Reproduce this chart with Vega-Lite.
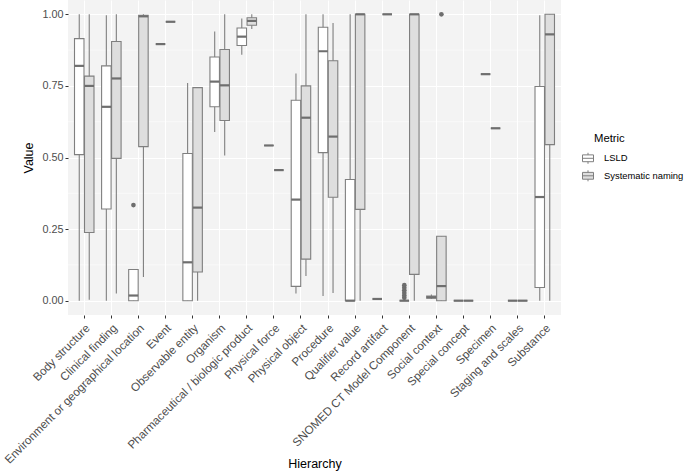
{
  "$schema": "https://vega.github.io/schema/vega-lite/v6.json",
  "autosize": "none",
  "width": 493,
  "height": 315,
  "padding": {"left": 68, "top": 0, "right": 124, "bottom": 156},
  "background": "white",
  "config": {
    "font": "Liberation Sans",
    "view": {"fill": "#F3F3F3", "stroke": null},
    "axis": {"labelColor": "#4D4D4D", "labelFontSize": 10.8, "titleFontSize": 12.5, "titleFontWeight": "normal", "titleColor": "#000", "tickColor": "#333", "tickSize": 3, "domain": false, "gridColor": "white", "gridWidth": 1},
    "legend": {"padding": 0}
  },
  "datasets": {
    "stats": [
      {"h": "Body structure", "m": "LSLD", "lo": 0.0, "q1": 0.51, "med": 0.82, "q3": 0.915, "hi": 1.0},
      {"h": "Body structure", "m": "Systematic naming", "lo": 0.003, "q1": 0.238, "med": 0.75, "q3": 0.784, "hi": 1.0},
      {"h": "Clinical finding", "m": "LSLD", "lo": 0.0, "q1": 0.32, "med": 0.677, "q3": 0.82, "hi": 0.997},
      {"h": "Clinical finding", "m": "Systematic naming", "lo": 0.025, "q1": 0.497, "med": 0.776, "q3": 0.905, "hi": 1.0},
      {"h": "Environment or geographical location", "m": "LSLD", "lo": 0.0, "q1": 0.0, "med": 0.018, "q3": 0.109, "hi": 0.109},
      {"h": "Environment or geographical location", "m": "Systematic naming", "lo": 0.083, "q1": 0.538, "med": 0.993, "q3": 0.997, "hi": 1.0},
      {"h": "Event", "m": "LSLD", "lo": 0.896, "q1": 0.896, "med": 0.896, "q3": 0.896, "hi": 0.896},
      {"h": "Event", "m": "Systematic naming", "lo": 0.974, "q1": 0.974, "med": 0.974, "q3": 0.974, "hi": 0.974},
      {"h": "Observable entity", "m": "LSLD", "lo": 0.0, "q1": 0.0, "med": 0.134, "q3": 0.514, "hi": 0.76},
      {"h": "Observable entity", "m": "Systematic naming", "lo": 0.0, "q1": 0.1, "med": 0.325, "q3": 0.744, "hi": 0.744},
      {"h": "Organism", "m": "LSLD", "lo": 0.589, "q1": 0.677, "med": 0.765, "q3": 0.851, "hi": 0.94},
      {"h": "Organism", "m": "Systematic naming", "lo": 0.507, "q1": 0.629, "med": 0.752, "q3": 0.877, "hi": 1.0},
      {"h": "Pharmaceutical / biologic product", "m": "LSLD", "lo": 0.859, "q1": 0.891, "med": 0.922, "q3": 0.952, "hi": 0.985},
      {"h": "Pharmaceutical / biologic product", "m": "Systematic naming", "lo": 0.949, "q1": 0.962, "med": 0.977, "q3": 0.988, "hi": 1.0},
      {"h": "Physical force", "m": "LSLD", "lo": 0.542, "q1": 0.542, "med": 0.542, "q3": 0.542, "hi": 0.542},
      {"h": "Physical force", "m": "Systematic naming", "lo": 0.456, "q1": 0.456, "med": 0.456, "q3": 0.456, "hi": 0.456},
      {"h": "Physical object", "m": "LSLD", "lo": 0.025, "q1": 0.05, "med": 0.353, "q3": 0.7, "hi": 0.793},
      {"h": "Physical object", "m": "Systematic naming", "lo": 0.086, "q1": 0.145, "med": 0.639, "q3": 0.75, "hi": 1.0},
      {"h": "Procedure", "m": "LSLD", "lo": 0.016, "q1": 0.517, "med": 0.871, "q3": 0.955, "hi": 1.0},
      {"h": "Procedure", "m": "Systematic naming", "lo": 0.027, "q1": 0.361, "med": 0.573, "q3": 0.838, "hi": 0.97},
      {"h": "Qualifier value", "m": "LSLD", "lo": 0.0, "q1": 0.0, "med": 0.0, "q3": 0.423, "hi": 1.0},
      {"h": "Qualifier value", "m": "Systematic naming", "lo": 0.0, "q1": 0.319, "med": 1.0, "q3": 1.0, "hi": 1.0},
      {"h": "Record artifact", "m": "LSLD", "lo": 0.006, "q1": 0.006, "med": 0.006, "q3": 0.006, "hi": 0.006},
      {"h": "Record artifact", "m": "Systematic naming", "lo": 1.0, "q1": 1.0, "med": 1.0, "q3": 1.0, "hi": 1.0},
      {"h": "SNOMED CT Model Component", "m": "LSLD", "lo": 0.0, "q1": 0.0, "med": 0.0, "q3": 0.0, "hi": 0.0},
      {"h": "SNOMED CT Model Component", "m": "Systematic naming", "lo": 0.0, "q1": 0.092, "med": 1.0, "q3": 1.0, "hi": 1.0},
      {"h": "Social context", "m": "LSLD", "lo": 0.006, "q1": 0.009, "med": 0.012, "q3": 0.016, "hi": 0.022},
      {"h": "Social context", "m": "Systematic naming", "lo": 0.0, "q1": 0.0, "med": 0.051, "q3": 0.225, "hi": 0.225},
      {"h": "Special concept", "m": "LSLD", "lo": 0.0, "q1": 0.0, "med": 0.0, "q3": 0.0, "hi": 0.0},
      {"h": "Special concept", "m": "Systematic naming", "lo": 0.0, "q1": 0.0, "med": 0.0, "q3": 0.0, "hi": 0.0},
      {"h": "Specimen", "m": "LSLD", "lo": 0.791, "q1": 0.791, "med": 0.791, "q3": 0.791, "hi": 0.791},
      {"h": "Specimen", "m": "Systematic naming", "lo": 0.602, "q1": 0.602, "med": 0.602, "q3": 0.602, "hi": 0.602},
      {"h": "Staging and scales", "m": "LSLD", "lo": 0.0, "q1": 0.0, "med": 0.0, "q3": 0.0, "hi": 0.0},
      {"h": "Staging and scales", "m": "Systematic naming", "lo": 0.0, "q1": 0.0, "med": 0.0, "q3": 0.0, "hi": 0.0},
      {"h": "Substance", "m": "LSLD", "lo": 0.0, "q1": 0.046, "med": 0.362, "q3": 0.748, "hi": 0.997},
      {"h": "Substance", "m": "Systematic naming", "lo": 0.0, "q1": 0.545, "med": 0.93, "q3": 1.0, "hi": 1.0}
    ],
    "out": [
      {"h": "Environment or geographical location", "m": "LSLD", "v": 0.334},
      {"h": "SNOMED CT Model Component", "m": "LSLD", "v": 0.01},
      {"h": "SNOMED CT Model Component", "m": "LSLD", "v": 0.018},
      {"h": "SNOMED CT Model Component", "m": "LSLD", "v": 0.027},
      {"h": "SNOMED CT Model Component", "m": "LSLD", "v": 0.036},
      {"h": "SNOMED CT Model Component", "m": "LSLD", "v": 0.045},
      {"h": "SNOMED CT Model Component", "m": "LSLD", "v": 0.054},
      {"h": "Social context", "m": "Systematic naming", "v": 1.0}
    ],
    "minor": [{"y": 0.125}, {"y": 0.375}, {"y": 0.625}, {"y": 0.875}]
  },
  "encoding": {
    "x": {
      "field": "h", "type": "nominal", "title": "Hierarchy",
      "scale": {"domain": ["Body structure", "Clinical finding", "Environment or geographical location", "Event", "Observable entity", "Organism", "Pharmaceutical / biologic product", "Physical force", "Physical object", "Procedure", "Qualifier value", "Record artifact", "SNOMED CT Model Component", "Social context", "Special concept", "Specimen", "Staging and scales", "Substance"], "paddingInner": 0, "paddingOuter": 0.1},
      "axis": {"labelAngle": -45, "labelAlign": "right", "labelBaseline": "top", "labelFontSize": 11.6, "labelColor": "#4D4D4D", "labelPadding": 4, "labelLimit": 300, "grid": true, "titleY": 148, "titleBaseline": "middle"}
    }
  },
  "layer": [
    {
      "data": {"name": "minor"},
      "mark": {"type": "rule", "color": "white", "strokeWidth": 0.5},
      "encoding": {"x": null, "y": {"field": "y", "type": "quantitative"}}
    },
    {
      "data": {"name": "stats"},
      "mark": {"type": "rule", "color": "#7F7F7F", "strokeWidth": 1.1},
      "encoding": {
        "xOffset": {"field": "m", "type": "nominal", "scale": {"domain": ["LSLD", "Systematic naming"], "paddingInner": 0.05, "paddingOuter": 0.38}},
        "y": {"field": "lo", "type": "quantitative", "title": "Value", "scale": {"domain": [-0.05, 1.05], "nice": false, "zero": false},
              "axis": {"values": [0, 0.25, 0.5, 0.75, 1], "format": ".2f", "titlePadding": 6}},
        "y2": {"field": "hi"}
      }
    },
    {
      "data": {"name": "stats"},
      "mark": {"type": "bar", "stroke": "#7F7F7F", "strokeWidth": 1.1},
      "encoding": {
        "xOffset": {"field": "m", "type": "nominal"},
        "y": {"field": "q1", "type": "quantitative"},
        "y2": {"field": "q3"},
        "fill": {"field": "m", "type": "nominal", "title": "Metric",
                 "scale": {"domain": ["LSLD", "Systematic naming"], "range": ["#FFFFFF", "#DEDEDE"]},
                 "legend": {"orient": "none", "legendX": 526, "legendY": 133, "titleAnchor": "start", "titleAlign": "left", "titleFontSize": 11.3, "titleFontWeight": "normal", "titleColor": "#000", "titlePadding": 8, "labelFontSize": 9.4, "labelColor": "#000", "symbolType": "M-1,-0.62L1,-0.62L1,0.62L-1,0.62Z M-1,0L1,0 M0,-0.62L0,-1 M0,0.62L0,1", "symbolSize": 121, "symbolOffset": -12, "symbolStrokeColor": "#7F7F7F", "symbolStrokeWidth": 1, "rowPadding": 1.5, "labelOffset": 10}}
      }
    },
    {
      "data": {"name": "stats"},
      "mark": {"type": "tick", "color": "#6E6E6E", "thickness": 2.2, "size": 9.5, "opacity": 1},
      "encoding": {
        "xOffset": {"field": "m", "type": "nominal"},
        "y": {"field": "med", "type": "quantitative"}
      }
    },
    {
      "data": {"name": "out"},
      "mark": {"type": "circle", "color": "#6E6E6E", "size": 22, "opacity": 1},
      "encoding": {
        "xOffset": {"field": "m", "type": "nominal"},
        "y": {"field": "v", "type": "quantitative"}
      }
    }
  ]
}
